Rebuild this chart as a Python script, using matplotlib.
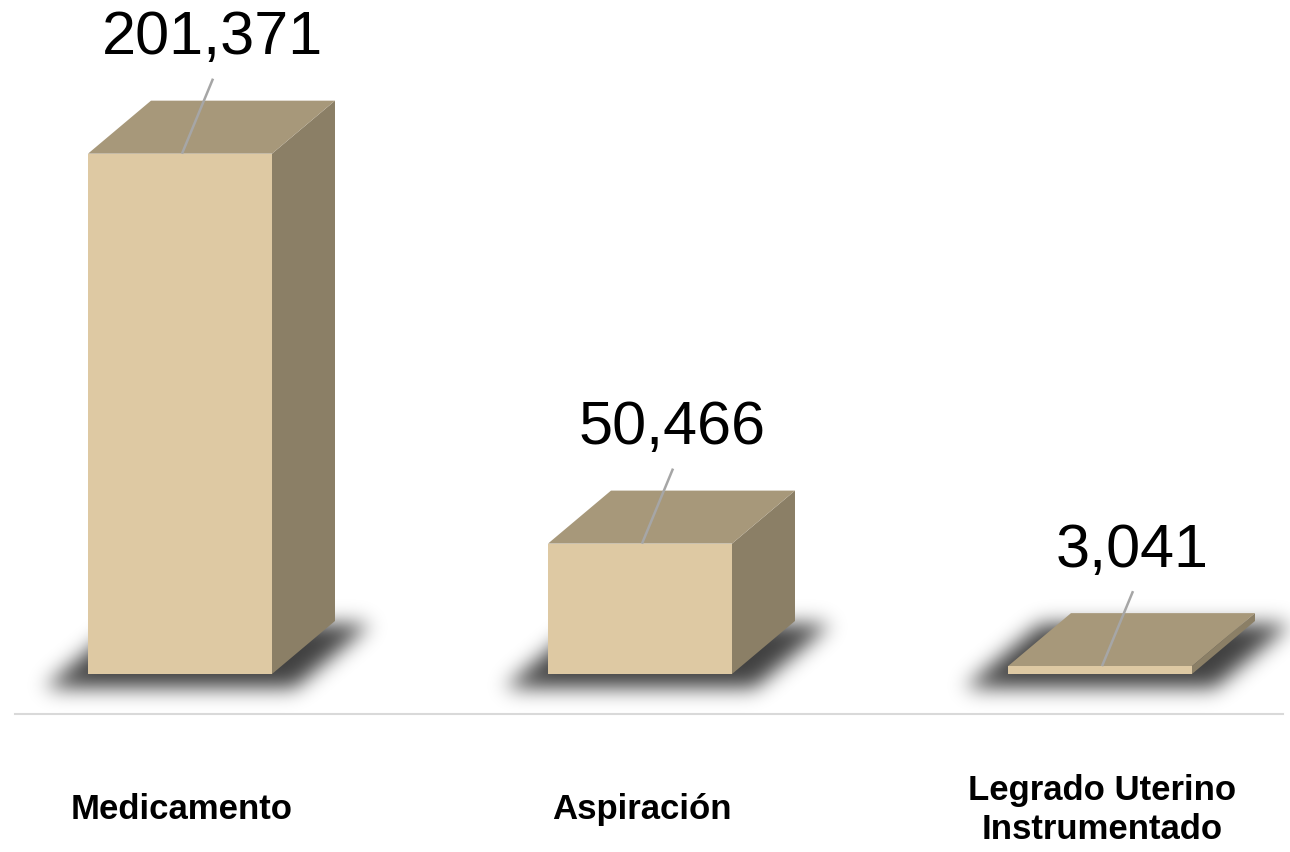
import numpy as np
import matplotlib
matplotlib.use("Agg")
import matplotlib.pyplot as plt

# data
categories = ["Medicamento", "Aspiración", "Legrado Uterino\nInstrumentado"]
values = [201371, 50466, 3041]
value_labels = ["201,371", "50,466", "3,041"]

# colours of the box faces
front_col = "#DEC9A3"
top_col = "#A7987A"
side_col = "#8B7F66"

W, H = 1290, 853
fig = plt.figure(figsize=(W / 100, H / 100), dpi=100)
ax = fig.add_axes([0, 0, 1, 1])
ax.axis("off")

# axis scale: units per pixel
PX = 387.0
xlim = (-180 / 460, (W - 180) / 460)
ylim = (-(H - 675) * PX, 675 * PX)

bw = 0.4          # bar width
DX = 63 / 460     # depth offset in x
DY = 53 * PX      # depth offset in y


def to_px(x, y):
    px = (x - xlim[0]) / (xlim[1] - xlim[0]) * W
    py = (ylim[1] - y) / (ylim[1] - ylim[0]) * H
    return px, py


# soft floor shadow, blurred parallelogram under every box
yy, xx = np.mgrid[0:H, 0:W] + 0.5
mask = np.zeros((H, W))
dxp = DX / (xlim[1] - xlim[0]) * W
dyp = DY / (ylim[1] - ylim[0]) * H
for i in range(len(values)):
    xl, fy = to_px(i - bw / 2, 0)
    xr, _ = to_px(i + bw / 2, 0)
    t = (fy + 6 - yy) / dyp
    inside = (t >= -0.15) & (t <= 1.05) & (xx >= xl + t * dxp - 34) & (xx <= xr + t * dxp + 32)
    mask[inside] = 1.0

sig = 10
k = np.exp(-0.5 * (np.arange(-3 * sig, 3 * sig + 1) / sig) ** 2)
k /= k.sum()
mask = np.apply_along_axis(lambda m: np.convolve(m, k, mode="same"), 1, mask)
mask = np.apply_along_axis(lambda m: np.convolve(m, k, mode="same"), 0, mask)
rgba = np.zeros((H, W, 4))
rgba[..., 3] = mask * 0.75
ax.imshow(rgba, extent=(xlim[0], xlim[1], ylim[0], ylim[1]), origin="upper",
          aspect="auto", zorder=1, interpolation="bilinear")

# boxes
x = np.arange(len(values))
for xi, v in zip(x, values):
    ax.fill([xi + bw / 2, xi + bw / 2 + DX, xi + bw / 2 + DX, xi + bw / 2],
            [0, DY, v + DY, v], color=side_col, lw=0, zorder=2)
    ax.fill([xi - bw / 2, xi + bw / 2, xi + bw / 2 + DX, xi - bw / 2 + DX],
            [v, v, v + DY, v + DY], color=top_col, lw=0, zorder=2)
ax.bar(x, values, width=bw, color=front_col, zorder=3)

# leader lines and value labels
for xi, v, lab in zip(x, values, value_labels):
    ax.plot([xi + 2 / 460, xi + 33 / 460], [v, v + 75 * PX], color="#A6A6A6", lw=1.8,
            zorder=4, solid_capstyle="butt")
    ax.text(xi + 32 / 460, v + 116 * PX, lab, ha="center", va="center",
            fontsize=44, family=["Liberation Sans", "DejaVu Sans"], color="#000000", zorder=5)

# floor line
ax.plot([xlim[0] + 15 / 460, xlim[0] + 1283 / 460], [-40 * PX, -40 * PX],
        color="#D9D9D9", lw=1.5, zorder=1)

# category labels
for xi, c in zip(x, categories):
    ax.text(xi + 2 / 460, -135 * PX, c, ha="center", va="center", fontsize=25,
            fontweight="bold", family=["Liberation Sans", "DejaVu Sans"],
            linespacing=1.2, zorder=5)

ax.set_xlim(*xlim)
ax.set_ylim(*ylim)
fig.savefig("out.png", dpi=100)
